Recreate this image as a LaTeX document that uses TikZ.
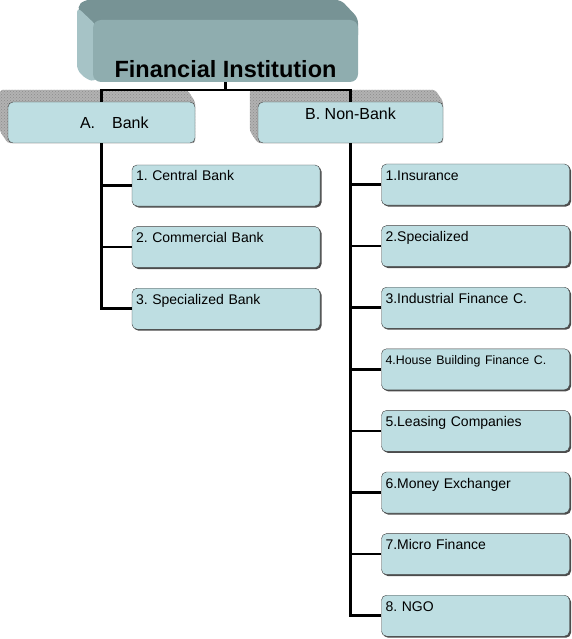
\documentclass[tikz,border=0pt]{standalone}
\usepackage{fontspec}
\setmainfont{Liberation Sans}
\usetikzlibrary{positioning,calc,shadows,patterns,backgrounds}
\frenchspacing

\definecolor{frontgray}{HTML}{8FADAF}
\definecolor{topgray}{HTML}{779395}
\definecolor{sidegray}{HTML}{A6C3C6}
\definecolor{leafblue}{HTML}{BEDEE2}

\tikzset{
  link/.style={line width=2.6pt},
  head/.style={rectangle, rounded corners=8pt, fill=frontgray, minimum width=265pt, minimum height=62pt,
    inner ysep=0pt, text height=58pt, text depth=4pt, font=\fontsize{23.5}{26}\selectfont\bfseries},
  branch/.style={rectangle, rounded corners=5pt, draw=black!75, fill=leafblue, minimum height=41pt,
    inner ysep=0pt, font=\fontsize{16}{18}\selectfont},
  leaf/.style={rectangle, rounded corners=5pt, draw=black!75, fill=leafblue, text width=180pt,
    inner xsep=4pt, inner ysep=0pt, text height=16pt, text depth=25pt, align=left,
    font=\fontsize{14}{16}\selectfont,
    drop shadow={shadow xshift=1.5pt, shadow yshift=-1.5pt, fill=black!70, opacity=1}},
}

\begin{document}
\begin{tikzpicture}[x=1pt, y=-1pt]
\useasboundingbox (0,0) rectangle (571,639);

% the 3d head box
\fill[topgray, rounded corners=5pt] (77,7) -- (84,0) -- (341,0) -- (358,18) -- (358,40) -- (93,40) -- cycle;
\fill[sidegray, rounded corners=5pt] (77,7) -- (96,25) -- (96,82) -- (86,79) -- (77,70) -- cycle;
\node[head] (fi) at (225.5,51) {Financial Institution};

\node[branch, text width=179pt, inner xsep=4pt, align=left, text height=27pt, text depth=14pt]
  (bank) at (101.5,122.5) {\hspace*{68pt}A.\hspace{17pt}Bank};
\node[branch, minimum width=185pt, text height=18pt, text depth=23pt]
  (nonbank) at (350.5,122.5) {B. Non-Bank};

\begin{scope}[on background layer]
\foreach \n in {bank,nonbank}
  \fill[black!30, postaction={pattern=crosshatch dots, pattern color=black!45}, rounded corners=3pt]
    ($(\n.north west)+(-8,-12)$) -- ($(\n.north east)+(-8,-12)$) -- (\n.north east)
    -- (\n.south east) -- (\n.south west) -- ($(\n.south west)+(-8,-12)$) -- cycle;
\end{scope}

\foreach \i/\txt in {1/{1. Central Bank}, 2/{2. Commercial Bank}, 3/{3. Specialized Bank}}
  \node[leaf] (bank\i) at (226,{185.5+61.6*(\i-1)}) {\txt};

\foreach \i/\txt in {1/{1.Insurance}, 2/{2.Specialized}, 3/{3.Industrial Finance C.},
    4/{\fontsize{12.4}{14}\selectfont 4.House Building Finance C.}, 5/{5.Leasing Companies},
    6/{6.Money Exchanger}, 7/{7.Micro Finance}, 8/{8. NGO}}
  \node[leaf] (nonbank\i) at (475.5,{184.5+61.6*(\i-1)}) {\txt};

\coordinate (bus) at ($(fi.south)+(0,8)$);
\draw[link] (fi.south) -- (bus);
\draw[link] (bank.north) |- (bus) -| (nonbank.north);

\foreach \i in {1,...,3}
  \draw[link] (bank) |- (bank\i);
\foreach \i in {1,...,8}
  \draw[link] (nonbank) |- (nonbank\i);

\end{tikzpicture}
\end{document}
